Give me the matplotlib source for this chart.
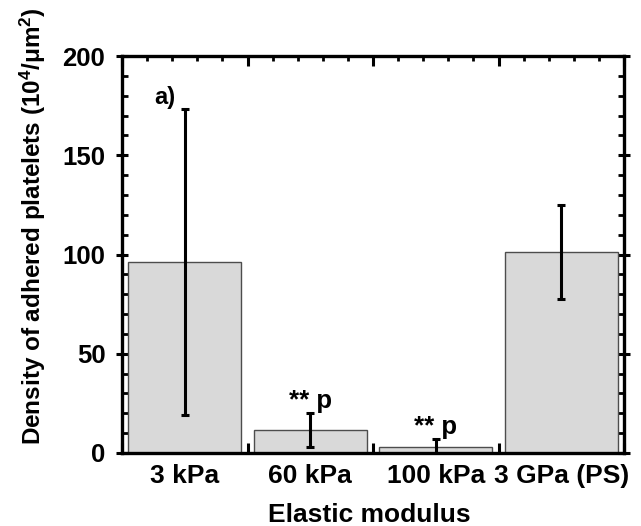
import matplotlib
matplotlib.use("Agg")
import matplotlib.pyplot as plt
from matplotlib.ticker import MultipleLocator

plt.rcParams['font.family'] = ['Liberation Sans', 'DejaVu Sans']
plt.rcParams['font.weight'] = 'bold'
plt.rcParams['mathtext.fontset'] = 'custom'
plt.rcParams['mathtext.rm'] = 'Liberation Sans:bold'
plt.rcParams['mathtext.it'] = 'Liberation Sans:bold'
plt.rcParams['mathtext.bf'] = 'Liberation Sans:bold'

# ---- data ----
categories = ["3 kPa", "60 kPa", "100 kPa", "3 GPa (PS)"]
density = [96.2, 11.6, 2.9, 101.1]
errors = [77.0, 8.6, 4.1, 23.6]
annotations = ["", "** p", "** p", ""]
yticks = [0, 50, 100, 150, 200]

fig = plt.figure(figsize=(6.41, 5.26), dpi=100)
ax = fig.add_axes([122/641, 1 - 453/526, 502/641, 397/526])

x = [i + 0.5 for i in range(len(categories))]
ax.bar(x, density, width=0.9, color='#d9d9d9', edgecolor='#4d4d4d',
       linewidth=1.0, zorder=2)
ax.errorbar(x, density, yerr=errors, fmt='none', ecolor='black',
            elinewidth=2.2, capsize=2.8, capthick=2.2, zorder=3)

ax.set_xlim(0, 4)
ax.set_ylim(0, 200)
ax.set_yticks(yticks)
ax.set_yticklabels([str(v) for v in yticks], fontsize=18.5, fontweight='bold')
ax.yaxis.set_minor_locator(MultipleLocator(10))
ax.xaxis.set_major_locator(MultipleLocator(1))
ax.xaxis.set_minor_locator(MultipleLocator(0.2))
ax.set_xticklabels([])

for s in ax.spines.values():
    s.set_linewidth(2.4)

ax.tick_params(axis='y', which='major', direction='inout', length=8, width=2.2,
               left=True, right=True, pad=8)
ax.tick_params(axis='y', which='minor', direction='in', length=4.3, width=2.0,
               left=True, right=True)
ax.tick_params(axis='x', which='major', direction='in', length=7, width=2.2,
               top=True, bottom=True, labelbottom=False)
ax.tick_params(axis='x', which='minor', direction='in', length=3.8, width=2.0,
               top=True, bottom=True)

# category labels
for xi, lab in zip(x, categories):
    ax.text(xi, -0.057, lab, transform=ax.get_xaxis_transform(),
            ha='center', va='center', fontsize=19, fontweight='bold')

# significance annotations
for xi, d, e, ann in zip(x, density, errors, annotations):
    if ann:
        ax.text(xi, d + e + 2.5, ann, ha='center', va='baseline',
                fontsize=18.5, fontweight='bold')

ax.text(0.34, 179, "a)", ha='center', va='center', fontsize=17, fontweight='bold')

ax.set_xlabel("Elastic modulus", fontsize=19, fontweight='bold')
ax.xaxis.set_label_coords(0.492, -0.125)
ax.set_ylabel("Density of adhered platelets (10$^{4}$/\u03bcm$^{2}$)",
              fontsize=17.5, fontweight='bold')
ax.yaxis.set_label_coords(-0.148, 0.572)

fig.savefig("out.png", dpi=100)
